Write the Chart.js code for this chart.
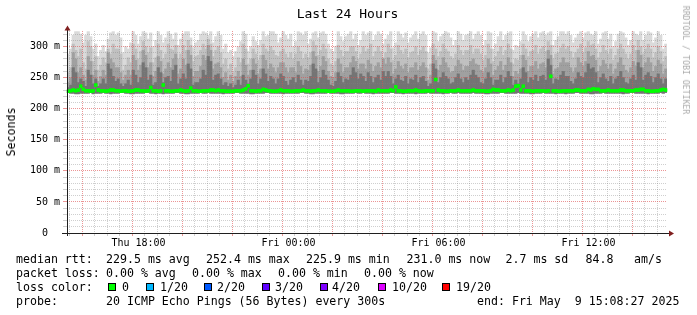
<!DOCTYPE html>
<html>
<head>
<meta charset="utf-8">
<script src="https://cdn.jsdelivr.net/npm/chart.js@4.4.1/dist/chart.umd.min.js"></script>
<style>
    body { margin: 0; background: #fff; }
    #wrap { position: relative; width: 697px; height: 315px; font-family: "DejaVu Sans Mono", monospace; color: #000; overflow: hidden; }
    #wrap canvas { position: absolute; left: 0; top: 0; }
    .txt { position: absolute; white-space: pre; font-size: 11.6px; line-height: 14px; }
    .sq { position: absolute; width: 8px; height: 8px; box-sizing: border-box; border: 1px solid #000; }
    #title { position: absolute; left: 0; top: 6px; width: 695px; text-align: center; font-size: 13px; line-height: 16px; }
    #ytitle { position: absolute; left: 11px; top: 132px; font-size: 11.6px; transform: translate(-50%, -50%) rotate(-90deg); white-space: pre; }
    #mark { position: absolute; left: 686px; top: 60px; font-size: 8.2px; color: #aaaaaa; transform: translate(-50%, -50%) rotate(90deg); white-space: pre; }
</style>
</head>
<body>
<div id="wrap">
    <canvas id="pingChart" width="697" height="315"></canvas>
    <div id="title">Last 24 Hours</div>
    <div id="ytitle">Seconds</div>
    <div id="mark">RRDTOOL / TOBI OETIKER</div>
    <div id="legend"></div>
</div>
<script>
// Smokeping 24h graph - one column every 6 minutes, values in ms
const maxRtt = [
    288, 296, 318, 324, 324, 320, 306, 318, 324, 316, 296, 304, 284, 294, 302, 292, 312, 322, 324, 318,
    322, 314, 290, 300, 296, 306, 324, 318, 304, 316, 324, 322, 312, 322, 300, 310, 324, 318, 306, 314,
    324, 320, 312, 322, 302, 312, 320, 324, 324, 314, 298, 306, 310, 320, 324, 322, 318, 324, 306, 316,
    324, 318, 296, 304, 290, 294, 284, 292, 300, 308, 324, 320, 292, 300, 316, 308, 302, 310, 324, 316,
    318, 324, 324, 320, 306, 314, 324, 318, 312, 320, 300, 308, 324, 322, 318, 324, 304, 312, 322, 324,
    314, 322, 324, 320, 304, 296, 292, 300, 324, 316, 308, 316, 320, 324, 312, 320, 302, 310, 324, 318,
    322, 324, 310, 318, 324, 320, 304, 312, 318, 324, 298, 306, 324, 320, 314, 322, 306, 314, 318, 324,
    312, 320, 324, 318, 290, 298, 324, 322, 308, 316, 320, 324, 322, 314, 302, 310, 324, 320, 310, 318,
    320, 324, 312, 320, 324, 318, 302, 310, 324, 322, 296, 304, 316, 324, 310, 318, 322, 324, 294, 302,
    300, 308, 324, 318, 308, 316, 320, 324, 314, 322, 324, 318, 322, 324, 302, 310, 316, 324, 324, 320,
    324, 318, 306, 314, 320, 324, 314, 322, 324, 320, 318, 324, 304, 312, 322, 324, 312, 320, 300, 308,
    320, 324, 322, 314, 302, 310, 324, 320, 318, 324, 310, 318, 324, 322, 306, 314, 324, 318, 296, 304
];
const p90Rtt = [
    258, 266, 304, 294, 284, 296, 274, 264, 308, 300, 276, 284, 262, 270, 282, 274, 296, 288, 304, 296,
    296, 288, 262, 270, 282, 274, 304, 296, 280, 292, 308, 300, 290, 298, 274, 282, 304, 294, 280, 288,
    304, 296, 294, 302, 280, 288, 302, 294, 310, 302, 276, 284, 286, 294, 304, 296, 312, 304, 284, 294,
    300, 290, 272, 280, 264, 272, 258, 266, 282, 274, 304, 296, 272, 280, 296, 288, 278, 286, 304, 296,
    292, 300, 294, 286, 284, 292, 296, 288, 282, 290, 280, 288, 300, 292, 280, 288, 282, 290, 308, 302,
    286, 294, 304, 296, 280, 272, 268, 276, 302, 294, 284, 292, 292, 300, 300, 292, 280, 288, 300, 292,
    296, 304, 284, 292, 300, 292, 282, 290, 304, 296, 278, 286, 302, 294, 288, 296, 282, 290, 292, 300,
    286, 294, 300, 292, 264, 272, 304, 296, 284, 292, 304, 296, 292, 284, 280, 288, 302, 294, 286, 294,
    294, 302, 288, 296, 296, 288, 278, 286, 304, 296, 276, 284, 292, 300, 286, 294, 304, 296, 272, 280,
    278, 286, 304, 296, 284, 292, 294, 302, 288, 296, 300, 292, 308, 302, 280, 288, 290, 298, 304, 296,
    300, 292, 282, 290, 296, 304, 290, 298, 308, 302, 304, 296, 282, 290, 302, 294, 288, 296, 278, 286,
    296, 304, 296, 288, 280, 288, 302, 294, 310, 300, 288, 296, 304, 296, 282, 290, 300, 292, 276, 284
];
const p75Rtt = [
    242, 250, 290, 280, 258, 266, 254, 246, 284, 276, 254, 262, 244, 252, 262, 254, 290, 280, 274, 266,
    266, 258, 246, 254, 262, 254, 286, 278, 262, 270, 294, 286, 266, 274, 252, 260, 284, 276, 256, 264,
    274, 266, 280, 288, 256, 264, 280, 270, 294, 286, 252, 260, 260, 268, 286, 278, 302, 294, 264, 272,
    274, 266, 250, 258, 246, 254, 244, 252, 260, 252, 280, 270, 254, 262, 280, 272, 256, 264, 286, 278,
    264, 272, 266, 258, 266, 274, 274, 266, 258, 266, 266, 258, 276, 268, 256, 264, 262, 270, 292, 284,
    260, 268, 284, 276, 260, 252, 250, 258, 280, 272, 258, 266, 266, 274, 284, 276, 264, 272, 272, 264,
    278, 272, 260, 268, 274, 266, 280, 272, 282, 274, 256, 264, 276, 268, 264, 272, 258, 266, 266, 274,
    262, 268, 274, 266, 246, 254, 286, 278, 262, 270, 282, 274, 266, 258, 260, 268, 278, 272, 262, 268,
    268, 276, 280, 272, 270, 262, 258, 266, 280, 272, 254, 262, 268, 276, 262, 270, 282, 274, 252, 260,
    256, 264, 286, 278, 260, 268, 268, 276, 264, 272, 274, 266, 294, 286, 256, 264, 266, 274, 282, 274,
    274, 266, 258, 266, 282, 274, 268, 276, 292, 284, 286, 278, 260, 268, 278, 272, 264, 272, 256, 264,
    274, 282, 270, 262, 258, 266, 276, 268, 294, 286, 266, 274, 282, 274, 260, 268, 278, 272, 256, 264
];
const p60Rtt = [
    234, 238, 266, 258, 242, 248, 244, 236, 262, 254, 240, 248, 236, 240, 248, 240, 272, 264, 252, 244,
    248, 240, 236, 240, 246, 238, 262, 254, 242, 250, 274, 266, 246, 254, 238, 242, 266, 258, 242, 250,
    252, 244, 262, 270, 240, 248, 256, 248, 272, 264, 238, 242, 242, 248, 262, 254, 284, 276, 246, 254,
    256, 248, 238, 242, 236, 240, 234, 238, 246, 238, 254, 246, 240, 248, 262, 254, 240, 248, 264, 256,
    244, 252, 248, 240, 248, 256, 252, 244, 238, 246, 250, 242, 254, 246, 238, 246, 244, 252, 272, 264,
    242, 250, 262, 254, 246, 238, 236, 244, 258, 252, 242, 248, 246, 254, 266, 258, 248, 256, 252, 244,
    258, 252, 242, 250, 254, 246, 260, 252, 260, 252, 240, 248, 254, 246, 244, 252, 240, 248, 246, 254,
    242, 250, 252, 244, 236, 240, 272, 264, 242, 250, 258, 252, 248, 240, 242, 250, 256, 248, 242, 250,
    246, 254, 262, 254, 250, 242, 240, 248, 258, 250, 238, 246, 246, 254, 242, 250, 260, 252, 238, 246,
    240, 248, 266, 258, 242, 250, 246, 254, 244, 252, 254, 246, 280, 270, 240, 248, 246, 254, 260, 252,
    252, 244, 240, 248, 258, 252, 250, 258, 272, 264, 266, 258, 242, 250, 256, 248, 244, 252, 240, 248,
    252, 260, 250, 242, 240, 248, 254, 246, 274, 266, 246, 254, 258, 252, 242, 250, 256, 248, 240, 248
];
const minRtt = [
    226, 225, 225, 224, 224, 225, 225, 225, 225, 226, 224, 225, 225, 225, 226, 225, 225, 224, 225, 225,
    225, 226, 226, 225, 225, 224, 224, 225, 225, 225, 225, 226, 226, 225, 225, 224, 225, 225, 224, 225,
    225, 225, 225, 226, 226, 225, 225, 224, 224, 225, 225, 225, 225, 226, 225, 225, 226, 225, 225, 225,
    225, 225, 224, 225, 225, 225, 225, 226, 226, 225, 225, 225, 225, 224, 224, 225, 225, 225, 225, 226,
    226, 225, 225, 225, 225, 225, 224, 225, 225, 225, 225, 225, 225, 226, 226, 225, 225, 224, 224, 225,
    225, 225, 225, 225, 226, 225, 225, 225, 225, 224, 224, 225, 225, 225, 225, 226, 225, 225, 226, 225,
    225, 225, 224, 225, 225, 225, 225, 225, 225, 226, 226, 225, 225, 225, 224, 225, 225, 225, 225, 224,
    225, 225, 225, 225, 226, 225, 225, 225, 225, 225, 224, 225, 225, 226, 225, 225, 226, 225, 225, 225,
    225, 225, 226, 225, 225, 225, 225, 224, 224, 225, 225, 225, 225, 226, 226, 225, 225, 225, 225, 225,
    226, 225, 225, 225, 225, 224, 224, 225, 225, 225, 226, 225, 225, 225, 225, 224, 225, 225, 225, 224,
    225, 225, 225, 226, 226, 225, 225, 225, 225, 224, 224, 225, 225, 225, 226, 225, 225, 225, 225, 225,
    225, 225, 224, 225, 225, 226, 226, 225, 225, 225, 225, 225, 224, 225, 225, 225, 225, 226, 225, 226
];
const medianRtt = [
    228, 229, 230, 229, 230, 236, 231, 229, 229, 228, 229, 238, 230, 229, 229, 228, 229, 230, 230, 229,
    229, 228, 229, 229, 228, 228, 229, 230, 230, 229, 229, 228, 229, 234, 229, 229, 228, 229, 238, 229,
    229, 228, 228, 229, 229, 230, 229, 228, 229, 233, 229, 229, 228, 228, 229, 229, 229, 230, 230, 229,
    230, 229, 229, 228, 228, 228, 228, 229, 229, 229, 230, 232, 237, 229, 229, 228, 229, 229, 231, 230,
    229, 229, 228, 228, 229, 230, 229, 229, 229, 228, 228, 229, 229, 229, 230, 229, 229, 228, 229, 229,
    230, 229, 229, 229, 228, 228, 228, 229, 230, 229, 229, 229, 229, 228, 228, 229, 229, 229, 228, 229,
    229, 229, 229, 228, 230, 229, 229, 229, 229, 230, 229, 235, 229, 229, 228, 228, 229, 229, 229, 230,
    229, 228, 228, 229, 229, 229, 229, 247, 230, 229, 229, 228, 228, 229, 229, 229, 230, 229, 229, 229,
    229, 229, 230, 229, 229, 229, 229, 228, 228, 229, 231, 230, 230, 229, 229, 229, 230, 229, 230, 236,
    237, 230, 236, 229, 229, 229, 228, 229, 229, 229, 229, 228, 229, 252, 229, 229, 228, 228, 229, 229,
    229, 229, 229, 230, 230, 229, 229, 229, 231, 230, 232, 231, 231, 229, 229, 229, 230, 229, 229, 229,
    229, 230, 230, 229, 229, 229, 229, 230, 230, 231, 231, 229, 229, 228, 228, 229, 229, 230, 231, 230
];

// time axis (hours since graph start, Thu 15:08:27)
const startClock = 15 + 8 / 60 + 27 / 3600;
const stepHours = 0.1;
const labelClock = [18, 24, 30, 36];
const labelText = ['Thu 18:00', 'Fri 00:00', 'Fri 06:00', 'Fri 12:00'];
const yLabelStep = 50;

// legend text below the graph: [text, left, top]
const legendItems = [
    ['median rtt:', 16, 252], ['229.5 ms avg', 106, 252], ['252.4 ms max', 206, 252],
    ['225.9 ms min', 306, 252], ['231.0 ms now', 406.5, 252], ['2.7 ms sd', 505.5, 252],
    ['84.8', 585.5, 252], ['am/s', 634, 252],
    ['packet loss:', 16, 266], ['0.00 % avg', 106, 266], ['0.00 % max', 192, 266],
    ['0.00 % min', 278, 266], ['0.00 % now', 364, 266],
    ['loss color:', 16, 280],
    ['probe:', 16, 294], ['20 ICMP Echo Pings (56 Bytes) every 300s', 106, 294],
    ['end: Fri May  9 15:08:27 2025', 477, 294]
];
const lossColors = [
    { label: '0', color: '#00ff00', sq: 108, tx: 122 },
    { label: '1/20', color: '#00b8ff', sq: 146, tx: 160 },
    { label: '2/20', color: '#0059ff', sq: 204, tx: 217 },
    { label: '3/20', color: '#5e00ff', sq: 262, tx: 275 },
    { label: '4/20', color: '#7e00ff', sq: 320, tx: 332 },
    { label: '10/20', color: '#dd00ff', sq: 378, tx: 392 },
    { label: '19/20', color: '#ff0000', sq: 442, tx: 456 }
];

const legendBox = document.getElementById('legend');
function addText(text, left, top) {
    const d = document.createElement('div');
    d.className = 'txt';
    d.style.left = left + 'px';
    d.style.top = top + 'px';
    d.textContent = text;
    legendBox.appendChild(d);
}
legendItems.forEach(it => addText(it[0], it[1], it[2]));
lossColors.forEach(item => {
    const sq = document.createElement('div');
    sq.className = 'sq';
    sq.style.left = item.sq + 'px';
    sq.style.top = '283px';
    sq.style.background = item.color;
    legendBox.appendChild(sq);
    addText(item.label, item.tx, 280);
});

const xs = maxRtt.map((_, i) => (i + 0.5) * stepHours);
function band(tops) {
    return tops.map((v, i) => ({ x: xs[i], y: [minRtt[i], v] }));
}

const halfHourTicks = [];
for (let k = Math.ceil(startClock * 2); k <= Math.floor((startClock + 24) * 2); k++) {
    halfHourTicks.push(k / 2 - startClock);
}

// rrdtool default grid colours
const majorRed = 'rgba(222, 79, 79, 0.6)';
const minorGray = 'rgba(130, 130, 130, 0.38)';

// axis lines with arrows, then the median marks again on top of the grid
const axisArrows = {
    id: 'axisArrows',
    afterDraw(chart) {
        const ctx = chart.ctx;
        const a = chart.chartArea;
        const y0 = Math.round(chart.scales.y.getPixelForValue(0));
        const x0 = Math.round(a.left);

        chart.getDatasetMeta(0).controller.draw();

        ctx.save();
        ctx.strokeStyle = '#1f1f1f';
        ctx.lineWidth = 1;
        ctx.beginPath();
        ctx.moveTo(x0 - 5, y0 + 0.5);
        ctx.lineTo(a.right + 3, y0 + 0.5);
        ctx.moveTo(x0 + 0.5, y0 + 3);
        ctx.lineTo(x0 + 0.5, a.top - 1);
        ctx.stroke();
        ctx.fillStyle = '#801f1f';
        ctx.beginPath();
        ctx.moveTo(x0 - 2.5, a.top - 0.5);
        ctx.lineTo(x0 + 3.5, a.top - 0.5);
        ctx.lineTo(x0 + 0.5, a.top - 5.5);
        ctx.closePath();
        ctx.fill();
        ctx.beginPath();
        ctx.moveTo(a.right + 2, y0 - 2.5);
        ctx.lineTo(a.right + 2, y0 + 3.5);
        ctx.lineTo(a.right + 7, y0 + 0.5);
        ctx.closePath();
        ctx.fill();
        ctx.restore();
    }
};

Chart.defaults.font.family = '"DejaVu Sans Mono", monospace';
Chart.defaults.color = '#000';

new Chart(document.getElementById('pingChart').getContext('2d'), {
    type: 'bar',
    data: {
        datasets: [
            {
                label: 'median rtt',
                data: medianRtt.map((v, i) => ({ x: xs[i], y: [v - 2.2, v + 2.2] })),
                backgroundColor: '#00ff00',
                order: 0
            },
            { label: 'p60', data: band(p60Rtt), backgroundColor: '#747474', order: 1 },
            { label: 'p75', data: band(p75Rtt), backgroundColor: '#a0a0a0', order: 2 },
            { label: 'p90', data: band(p90Rtt), backgroundColor: '#c0c0c0', order: 3 },
            { label: 'max', data: band(maxRtt), backgroundColor: '#dadada', order: 4 }
        ]
    },
    options: {
        responsive: false,
        animation: false,
        datasets: {
            bar: {
                grouped: false,
                barPercentage: 1,
                categoryPercentage: 1,
                borderWidth: 0
            }
        },
        layout: {
            padding: { left: 0, right: 30, top: 31, bottom: 62 }
        },
        plugins: {
            legend: { display: false },
            tooltip: { enabled: false }
        },
        scales: {
            x: {
                type: 'linear',
                min: 0,
                max: 24,
                offset: false,
                afterBuildTicks: scale => {
                    scale.ticks = halfHourTicks.map(v => ({ value: v }));
                },
                afterFit: scale => { scale.height = 20; },
                grid: {
                    z: 1,
                    lineWidth: 1,
                    tickLength: 3,
                    color: ctx => {
                        if (!ctx.tick) return minorGray;
                        const clock = Math.round((startClock + ctx.tick.value) * 2) / 2;
                        return clock % 2 === 0 ? majorRed : minorGray;
                    }
                },
                border: { display: false, dash: [1, 1] },
                ticks: {
                    autoSkip: false,
                    maxRotation: 0,
                    padding: 1,
                    font: { size: 10 },
                    callback: value => {
                        const clock = Math.round((startClock + value) * 2) / 2;
                        const k = labelClock.indexOf(clock);
                        return k >= 0 ? labelText[k] : '';
                    }
                }
            },
            y: {
                min: 0,
                max: 325,
                afterBuildTicks: scale => {
                    const t = [];
                    for (let v = 0; v <= 320; v += 10) t.push({ value: v });
                    scale.ticks = t;
                },
                afterFit: scale => { scale.width = 67; },
                grid: {
                    z: 1,
                    lineWidth: 1,
                    tickLength: 4,
                    color: ctx => {
                        if (!ctx.tick) return minorGray;
                        return ctx.tick.value % yLabelStep === 0 ? majorRed : minorGray;
                    }
                },
                border: { display: false, dash: [1, 1] },
                ticks: {
                    autoSkip: false,
                    padding: 3,
                    font: { size: 10 },
                    callback: value => {
                        if (value % yLabelStep !== 0) return '';
                        return value === 0 ? '0  ' : value + ' m';
                    }
                }
            }
        }
    },
    plugins: [axisArrows]
});
</script>
</body>
</html>
